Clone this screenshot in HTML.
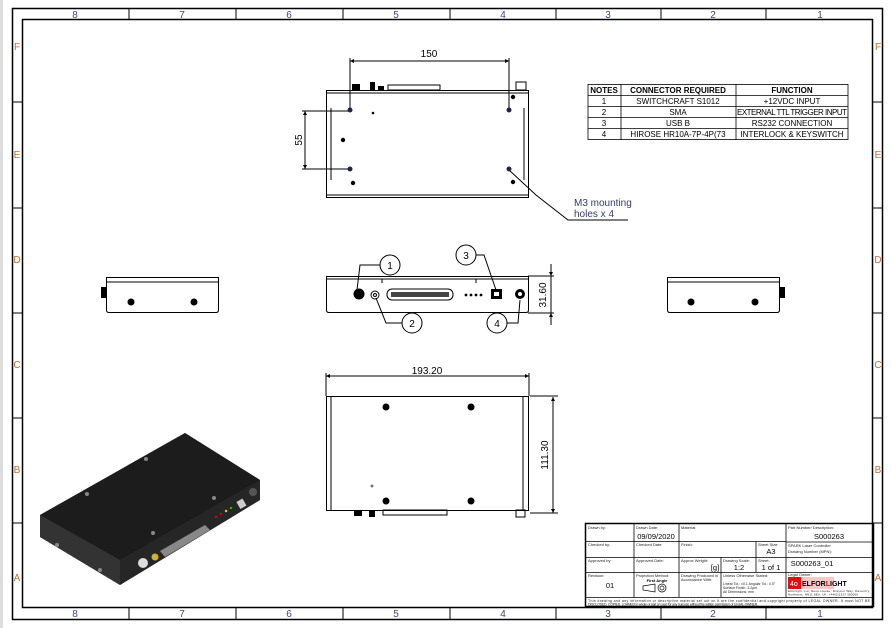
<!DOCTYPE html>
<html><head><meta charset="utf-8"><style>
html,body{margin:0;padding:0;background:#fff;}
svg{display:block;font-family:"Liberation Sans",sans-serif;}
</style></head><body>
<svg width="892" height="628" viewBox="0 0 892 628" xmlns="http://www.w3.org/2000/svg">
<defs>
<marker id="ar" viewBox="0 0 10 10" refX="10" refY="5" markerWidth="6" markerHeight="4" orient="auto-start-reverse"><path d="M0,0 L10,5 L0,10 Z" fill="#000"/></marker>
</defs>
<rect x="0" y="0" width="892" height="628" fill="#fff"/>
<rect x="0" y="0" width="3" height="628" fill="#ddd"/>
<rect x="12.5" y="8.5" width="870" height="611" fill="none" stroke="#000" stroke-width="1.5"/>
<rect x="22.5" y="19.5" width="850" height="588" fill="none" stroke="#000" stroke-width="1.5"/>
<g stroke="#000" stroke-width="1">
<line x1="129" y1="9" x2="129" y2="19"/><line x1="236" y1="9" x2="236" y2="19"/><line x1="343" y1="9" x2="343" y2="19"/><line x1="450" y1="9" x2="450" y2="19"/><line x1="556" y1="9" x2="556" y2="19"/><line x1="661" y1="9" x2="661" y2="19"/><line x1="766" y1="9" x2="766" y2="19"/>
<line x1="129" y1="608" x2="129" y2="619"/><line x1="236" y1="608" x2="236" y2="619"/><line x1="343" y1="608" x2="343" y2="619"/><line x1="450" y1="608" x2="450" y2="619"/><line x1="556" y1="608" x2="556" y2="619"/><line x1="661" y1="608" x2="661" y2="619"/><line x1="766" y1="608" x2="766" y2="619"/>
<line x1="13" y1="102" x2="22" y2="102"/><line x1="13" y1="208" x2="22" y2="208"/><line x1="13" y1="313" x2="22" y2="313"/><line x1="13" y1="418" x2="22" y2="418"/><line x1="13" y1="523" x2="22" y2="523"/>
<line x1="873" y1="102" x2="882" y2="102"/><line x1="873" y1="208" x2="882" y2="208"/><line x1="873" y1="313" x2="882" y2="313"/><line x1="873" y1="418" x2="882" y2="418"/><line x1="873" y1="523" x2="882" y2="523"/>
</g>
<g font-size="10" fill="#3a4a7a" text-anchor="middle">
<text x="75" y="18">8</text><text x="182" y="18">7</text><text x="289" y="18">6</text><text x="396" y="18">5</text><text x="503" y="18">4</text><text x="608" y="18">3</text><text x="713" y="18">2</text><text x="820" y="18">1</text>
<text x="75" y="617">8</text><text x="182" y="617">7</text><text x="289" y="617">6</text><text x="396" y="617">5</text><text x="503" y="617">4</text><text x="608" y="617">3</text><text x="713" y="617">2</text><text x="820" y="617">1</text>
</g>
<g font-size="10" fill="#c07030" text-anchor="middle">
<text x="17" y="50">F</text><text x="17" y="158">E</text><text x="17" y="263">D</text><text x="17" y="368">C</text><text x="17" y="473">B</text><text x="17" y="581">A</text>
<text x="878" y="50">F</text><text x="878" y="158">E</text><text x="878" y="263">D</text><text x="878" y="368">C</text><text x="878" y="473">B</text><text x="878" y="581">A</text>
</g>

<!-- TOP VIEW -->
<g stroke="#000" fill="none" stroke-width="1">
<rect x="326.5" y="90.5" width="202" height="107"/>
<line x1="327" y1="93" x2="528" y2="93"/><line x1="327" y1="195" x2="528" y2="195"/>
<line x1="331" y1="108" x2="331" y2="180"/><line x1="524" y1="108" x2="524" y2="180"/>
<rect x="388" y="85" width="52" height="5"/><rect x="516" y="82" width="10" height="8"/>
<line x1="350" y1="58" x2="350" y2="110"/><line x1="509" y1="58" x2="509" y2="110"/>
<line x1="350" y1="61" x2="509" y2="61" marker-start="url(#ar)" marker-end="url(#ar)"/>
<line x1="302" y1="111" x2="348" y2="111"/><line x1="302" y1="169" x2="348" y2="169"/>
<line x1="305" y1="111" x2="305" y2="169" marker-start="url(#ar)" marker-end="url(#ar)"/>
<polyline points="509,170 536,195 568,220 628,220"/>
</g>
<g fill="#000">
<rect x="352" y="84" width="8" height="6"/><rect x="370" y="82" width="5" height="8"/><rect x="378" y="86" width="6" height="4"/>
<circle cx="350" cy="110" r="2.5" fill="#224"/><circle cx="509" cy="110" r="2.5" fill="#224"/><circle cx="350" cy="169" r="2.5" fill="#224"/><circle cx="509" cy="169" r="2.5" fill="#224"/>
<circle cx="373" cy="113" r="1.3"/><circle cx="343" cy="140" r="2.2"/><circle cx="353" cy="183" r="2.2"/><circle cx="513" cy="97" r="2.2"/><circle cx="513" cy="182" r="2.2"/>
</g>
<text x="429" y="57" font-size="10" text-anchor="middle">150</text>
<text x="302" y="140" font-size="10" text-anchor="middle" transform="rotate(-90 302 140)">55</text>
<text x="574" y="206" font-size="10" fill="#333a66">M3 mounting</text>
<text x="574" y="217" font-size="10" fill="#333a66">holes x 4</text>

<!-- NOTES TABLE -->
<g stroke="#000" fill="none" stroke-width="0.8">
<rect x="588" y="84.5" width="260" height="55"/>
<line x1="588" y1="95.5" x2="848" y2="95.5"/><line x1="588" y1="106.5" x2="848" y2="106.5"/><line x1="588" y1="117.5" x2="848" y2="117.5"/><line x1="588" y1="128.5" x2="848" y2="128.5"/>
<line x1="621" y1="84" x2="621" y2="140"/><line x1="736" y1="84" x2="736" y2="140"/>
</g>
<g font-size="8" text-anchor="middle">
<text x="604" y="93" font-weight="bold">NOTES</text><text x="678" y="93" font-weight="bold">CONNECTOR REQUIRED</text><text x="792" y="93" font-weight="bold">FUNCTION</text>
<text x="604" y="104">1</text><text x="678" y="104">SWITCHCRAFT S1012</text><text x="792" y="104">+12VDC INPUT</text>
<text x="604" y="115">2</text><text x="678" y="115">SMA</text><text x="792" y="115" textLength="110">EXTERNAL TTL TRIGGER INPUT</text>
<text x="604" y="126">3</text><text x="678" y="126">USB B</text><text x="792" y="126">RS232 CONNECTION</text>
<text x="604" y="137">4</text><text x="678" y="137">HIROSE HR10A-7P-4P(73</text><text x="792" y="137">INTERLOCK &amp; KEYSWITCH</text>
</g>

<!-- FRONT VIEW -->
<g stroke="#000" fill="none" stroke-width="1">
<path d="M326.5,276.5 H528.5 V310 Q528.5,312.5 526,312.5 H329 Q326.5,312.5 326.5,310 Z"/>
<line x1="327" y1="279" x2="528" y2="279"/><line x1="382" y1="279" x2="382" y2="283"/><line x1="476" y1="279" x2="476" y2="283"/>
<circle cx="375" cy="295" r="4"/><circle cx="375" cy="295" r="1.5"/>
<rect x="387" y="289" width="66" height="11" rx="5"/>
<circle cx="390" cy="265" r="10"/><circle cx="466" cy="255" r="10"/><circle cx="412" cy="323" r="10"/><circle cx="497" cy="323" r="10"/>
<polyline points="380,265 360,265 357,290"/><polyline points="476,255 484,255 496,290"/>
<polyline points="402,323 386,323 376,298"/><polyline points="507,323 518,323 520,300"/>
<line x1="528" y1="276" x2="554" y2="276"/><line x1="528" y1="313" x2="554" y2="313"/>
<line x1="551" y1="264" x2="551" y2="276" marker-end="url(#ar)"/><line x1="551" y1="325" x2="551" y2="313" marker-end="url(#ar)"/>
<line x1="551" y1="276" x2="551" y2="313"/>
</g>
<g fill="#000">
<circle cx="359" cy="294" r="5.5"/><circle cx="520" cy="294" r="5"/><circle cx="520" cy="294" r="2" fill="#fff"/>
<rect x="491" y="289" width="11" height="10"/><rect x="494" y="292" width="5" height="4" fill="#fff"/>
<circle cx="466" cy="295" r="1.4"/><circle cx="471" cy="295" r="1.4"/><circle cx="476" cy="295" r="1.4"/><circle cx="481" cy="295" r="1.4"/>
<rect x="391" y="292" width="58" height="5" fill="#444"/>
</g>
<g font-size="10" text-anchor="middle"><text x="390" y="269">1</text><text x="466" y="259">3</text><text x="412" y="327">2</text><text x="497" y="327">4</text></g>
<text x="546" y="295" font-size="10" text-anchor="middle" transform="rotate(-90 546 295)">31.60</text>

<!-- SIDE VIEWS -->
<g stroke="#000" fill="none" stroke-width="1">
<path d="M106.5,277.5 H218.5 V310 Q218.5,312.5 216,312.5 H109 Q106.5,312.5 106.5,310 Z"/><line x1="107" y1="282" x2="218" y2="282"/>
<path d="M667.5,277.5 H779.5 V310 Q779.5,312.5 777,312.5 H670 Q667.5,312.5 667.5,310 Z"/><line x1="668" y1="282" x2="779" y2="282"/>
</g>
<g fill="#000">
<rect x="101" y="287" width="5" height="11"/><circle cx="131" cy="302" r="3.5"/><circle cx="194" cy="302" r="3.5"/>
<rect x="780" y="287" width="5" height="11"/><circle cx="691" cy="302" r="3.5"/><circle cx="755" cy="302" r="3.5"/>
</g>

<!-- BOTTOM VIEW -->
<g stroke="#000" fill="none" stroke-width="1">
<rect x="326.5" y="396.5" width="202" height="114"/>
<line x1="331" y1="397" x2="331" y2="510"/><line x1="523" y1="397" x2="523" y2="510"/>
<line x1="326" y1="373" x2="326" y2="396"/><line x1="529" y1="373" x2="529" y2="396"/>
<line x1="326" y1="376" x2="529" y2="376" marker-start="url(#ar)" marker-end="url(#ar)"/>
<line x1="530" y1="396" x2="558" y2="396"/><line x1="530" y1="513" x2="558" y2="513"/>
<line x1="553" y1="397" x2="553" y2="513" marker-start="url(#ar)" marker-end="url(#ar)"/>
<rect x="383" y="510" width="64" height="5"/><rect x="516" y="510" width="9" height="7"/>
</g>
<g fill="#000">
<rect x="354" y="510" width="8" height="6"/><rect x="369" y="510" width="6" height="7"/>
<circle cx="386" cy="407" r="3.5"/><circle cx="471" cy="407" r="3.5"/><circle cx="386" cy="501" r="3.5"/><circle cx="471" cy="501" r="3.5"/>
<circle cx="372" cy="486" r="1.5" fill="#777"/>
</g>
<text x="427" y="374" font-size="10" text-anchor="middle">193.20</text>
<text x="548" y="455" font-size="10" text-anchor="middle" transform="rotate(-90 548 455)">111.30</text>

<!-- 3D VIEW -->
<polygon points="40,515 185,433 260,480 260,500 120,585 40,537" fill="#2a2a2a"/>
<polygon points="40,515 185,433 260,480 120,560" fill="#1c1c1c"/>
<polygon points="40,515 120,560 120,585 40,537" fill="#333"/>
<polygon points="120,560 260,480 260,500 120,585" fill="#262626"/>
<g fill="#888"><circle cx="146" cy="459" r="2"/><circle cx="87" cy="494" r="2"/><circle cx="214" cy="498" r="2"/><circle cx="153" cy="533" r="2"/><circle cx="57" cy="545" r="2"/><circle cx="100" cy="570" r="2"/></g>
<circle cx="143" cy="563" r="5" fill="#ddd"/><circle cx="155" cy="557" r="3.5" fill="#d4b030"/>
<polygon points="160,551 205,525 210,530 165,557" fill="#888"/>
<rect x="238" y="500" width="7" height="8" fill="#ccc" transform="rotate(-30 241 504)"/>
<circle cx="253" cy="492" r="4" fill="#555"/>
<circle cx="216" cy="517" r="1.2" fill="#d00"/><circle cx="221" cy="514" r="1.2" fill="#d00"/><circle cx="226" cy="511" r="1.2" fill="#dd0"/><circle cx="231" cy="508" r="1.2" fill="#0c0"/>

<!-- TITLE BLOCK -->
<g stroke="#000" fill="none" stroke-width="0.8">
<rect x="585.5" y="523.5" width="288" height="83" stroke-width="1.5"/>
<line x1="586" y1="541.5" x2="786" y2="541.5"/><line x1="586" y1="557.5" x2="873" y2="557.5"/><line x1="586" y1="572.5" x2="873" y2="572.5"/>
<line x1="586" y1="597.5" x2="873" y2="597.5"/>
<line x1="786" y1="542" x2="873" y2="542"/>
<line x1="634" y1="524" x2="634" y2="597"/><line x1="679" y1="524" x2="679" y2="597"/>
<line x1="721" y1="557" x2="721" y2="597"/><line x1="756" y1="542" x2="756" y2="572"/>
<line x1="786" y1="524" x2="786" y2="597"/>
</g>
<g font-size="4" fill="#222">
<text x="588" y="529">Drawn by:</text><text x="636" y="529">Drawn Date:</text><text x="681" y="529">Material:</text><text x="788" y="529">Part Number/ Description:</text>
<text x="588" y="546">Checked by:</text><text x="636" y="546">Checked Date:</text><text x="681" y="546">Finish:</text><text x="758" y="546">Sheet Size:</text><text x="788" y="547">SPARK Laser Controller</text>
<text x="588" y="562">Approved by:</text><text x="636" y="562">Approved Date:</text><text x="681" y="562">Approx Weight:</text><text x="723" y="562">Drawing Scale:</text><text x="758" y="562">Sheet:</text><text x="788" y="553">Drawing Number (MPN):</text>
<text x="588" y="577">Revision:</text><text x="636" y="577">Projection Method:</text><text x="681" y="577">Drawing Produced in</text><text x="681" y="581">Accordance With:</text><text x="723" y="577">Unless Otherwise Stated:</text>
<text x="723" y="585" font-size="3.5">Linear Tol.: ±0.1 Angular Tol.: 0.5°</text><text x="723" y="589" font-size="3.5">Surface Finish: 3.2µm</text><text x="723" y="593" font-size="3.5">All Dimensions: mm</text>
<text x="788" y="576">Legal Owner:</text>
<text x="788" y="592" font-size="3" textLength="82">Elforlight Ltd, Nene House, Drayton Way, Daventry,</text><text x="788" y="595.5" font-size="3" textLength="70">Northants, NN11 8EA, UK. +44(0)1327 300000</text>
<text x="588" y="602" font-size="3.5" textLength="282">This drawing and any information or descriptive material set out on it are the confidential and copyright property of LEGAL OWNER. It must NOT BE</text>
<text x="588" y="605.5" font-size="3.5" textLength="170">DISCLOSED, COPIED, LOANED in whole or part or used for any purpose without the written permission of LEGAL OWNER.</text>
</g>
<g font-size="7.5" fill="#000" text-anchor="middle">
<text x="656" y="539">09/09/2020</text><text x="829" y="539">S000263</text>
<text x="771" y="554">A3</text><text x="739" y="570">1:2</text><text x="771" y="570">1 of 1</text>
<text x="715" y="570">[g]</text><text x="610" y="588">01</text>
<text x="812" y="566">S000263_01</text>
</g>
<text x="657" y="582" font-size="4" text-anchor="middle" font-weight="bold">First Angle</text>
<g stroke="#000" fill="none" stroke-width="0.7"><path d="M643,586 L655,584 L655,592 L643,590 Z"/><circle cx="662" cy="588" r="4"/><circle cx="662" cy="588" r="2"/></g>
<rect x="788" y="577" width="46" height="12" fill="#f6c8c8"/>
<rect x="788" y="577" width="13" height="12" fill="#d11"/>
<text x="790" y="586" font-size="7" fill="#fff">4o</text>
<text x="802" y="586" font-size="7" font-weight="bold">ELFOR<tspan fill="#d11">L</tspan>IGHT</text>
</svg>
</body></html>
